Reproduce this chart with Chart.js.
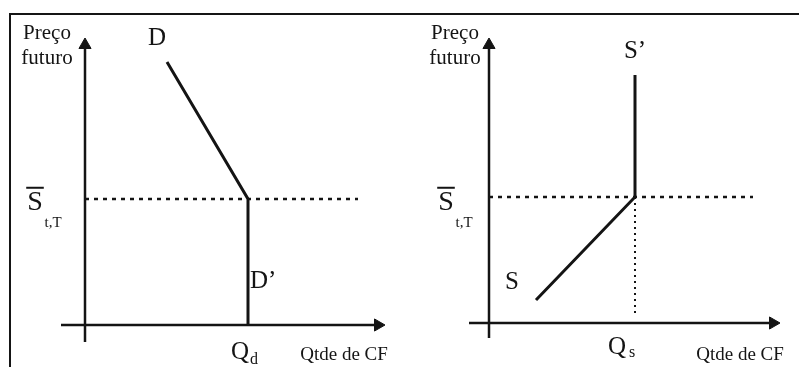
<!DOCTYPE html>
<html>
<head>
<meta charset="utf-8">
<script src="https://cdn.jsdelivr.net/npm/chart.js@4"></script>
<style>
  html, body { margin: 0; padding: 0; background: #fff; }
  #wrap { position: relative; width: 799px; height: 367px; overflow: hidden; }
  #frame { position: absolute; left: 9px; top: 13px; width: 790px; height: 360px;
           border-top: 2px solid #151515; border-left: 2px solid #151515; }
  canvas { position: absolute; top: 0; }
  #chartLeft { left: 0; }
  #chartRight { left: 400px; }
</style>
</head>
<body>
<div id="wrap">
  <div id="frame"></div>
  <canvas id="chartLeft" width="400" height="367"></canvas>
  <canvas id="chartRight" width="399" height="367"></canvas>
</div>
<script>
// price level S-bar(t,T), shared by both panels
const priceLevel = 3.15;

// left panel: demand D -> D'
const demandQty = [2.05, 4.075, 4.075];
const demandPrice = [6.575, priceLevel, 0];
const leftRefQty = [0, 6.825];
const leftAxisX = [-0.6, 7.325];
const leftAxisY = [-0.425, 7.0];

// right panel: supply S -> S'
const supplyQty = [1.175, 3.65, 3.65];
const supplyPrice = [0.575, priceLevel, 6.2];
const rightRefQty = [0, 6.6];
const rightDropPrice = [priceLevel, 0.25];
const rightAxisX = [-0.5, 7.1];
const rightAxisY = [-0.375, 6.95];

const INK = '#141414';
const SERIF = '"Liberation Serif", "DejaVu Serif", serif';

function seg(xs, ys, extra) {
    return Object.assign({
        data: xs.map((x, i) => ({ x: x, y: ys[i] })),
        showLine: true,
        borderColor: INK,
        borderWidth: 3,
        pointRadius: 0,
        fill: false,
        clip: false
    }, extra || {});
}

// axis with an arrow head (triangle point) on its far end
function axis(xs, ys, angle) {
    return seg(xs, ys, {
        borderWidth: 2.5,
        pointStyle: ['circle', 'triangle'],
        pointRadius: [0, 7],
        rotation: [0, angle],
        pointBackgroundColor: INK,
        pointBorderColor: INK,
        pointBorderWidth: 1
    });
}

const labelPlugin = {
    id: 'diagramLabels',
    afterDatasetsDraw(chart, args, opts) {
        const ctx = chart.ctx;
        const sx = chart.scales.x, sy = chart.scales.y;
        ctx.save();
        ctx.fillStyle = INK;
        ctx.textBaseline = 'middle';
        opts.items.forEach(l => {
            const px = sx.getPixelForValue(l.x);
            const py = sy.getPixelForValue(l.y);
            ctx.font = l.size + 'px ' + SERIF;
            ctx.textAlign = l.align || 'center';
            ctx.fillText(l.text, px, py);
            if (l.bar) {
                const w = ctx.measureText(l.text).width;
                ctx.fillRect(px - w / 2 - 1, py - l.size * 0.58, w + 2, 2);
            }
        });
        ctx.restore();
    }
};

function options(xMin, xMax, yMin, yMax, labels) {
    return {
        responsive: false,
        animation: false,
        events: [],
        layout: { padding: 0, autoPadding: false },
        scales: {
            x: { type: 'linear', min: xMin, max: xMax, display: false },
            y: { type: 'linear', min: yMin, max: yMax, display: false }
        },
        plugins: {
            legend: { display: false },
            tooltip: { enabled: false },
            diagramLabels: { items: labels }
        }
    };
}

const leftLabels = [
    { text: 'Preço', x: -0.95, y: 7.3, size: 21 },
    { text: 'futuro', x: -0.95, y: 6.675, size: 21 },
    { text: 'D', x: 1.8, y: 7.175, size: 25 },
    { text: 'S', x: -1.25, y: 3.05, size: 28, bar: true },
    { text: 't,T', x: -0.8, y: 2.55, size: 15 },
    { text: 'D\u2019', x: 4.125, y: 1.1, size: 25, align: 'left' },
    { text: 'Q', x: 3.875, y: -0.675, size: 25 },
    { text: 'd', x: 4.225, y: -0.875, size: 16 },
    { text: 'Qtde de CF', x: 6.475, y: -0.75, size: 19 }
];

const rightLabels = [
    { text: 'Preço', x: -0.85, y: 7.25, size: 21 },
    { text: 'futuro', x: -0.85, y: 6.625, size: 21 },
    { text: 'S\u2019', x: 3.65, y: 6.8, size: 25 },
    { text: 'S', x: -1.075, y: 3.0, size: 28, bar: true },
    { text: 't,T', x: -0.625, y: 2.5, size: 15 },
    { text: 'S', x: 0.575, y: 1.025, size: 25 },
    { text: 'Q', x: 3.2, y: -0.6, size: 25 },
    { text: 's', x: 3.575, y: -0.75, size: 16 },
    { text: 'Qtde de CF', x: 6.275, y: -0.8, size: 19 }
];

const chartLeft = new Chart(document.getElementById('chartLeft'), {
    type: 'scatter',
    data: {
        datasets: [
            seg(leftRefQty, [priceLevel, priceLevel], { borderWidth: 2.5, borderDash: [4, 5] }),
            axis(leftAxisX, [0, 0], 90),
            axis([0, 0], leftAxisY, 0),
            seg(demandQty, demandPrice)
        ]
    },
    options: options(-2.125, 7.875, -1.05, 8.125, leftLabels),
    plugins: [labelPlugin]
});

const chartRight = new Chart(document.getElementById('chartRight'), {
    type: 'scatter',
    data: {
        datasets: [
            seg(rightRefQty, [priceLevel, priceLevel], { borderWidth: 2.5, borderDash: [4, 5] }),
            seg([supplyQty[1], supplyQty[1]], rightDropPrice, { borderWidth: 2, borderDash: [2, 4] }),
            axis(rightAxisX, [0, 0], 90),
            axis([0, 0], rightAxisY, 0),
            seg(supplyQty, supplyPrice)
        ]
    },
    options: options(-2.225, 7.75, -1.1, 8.075, rightLabels),
    plugins: [labelPlugin]
});
</script>
</body>
</html>
